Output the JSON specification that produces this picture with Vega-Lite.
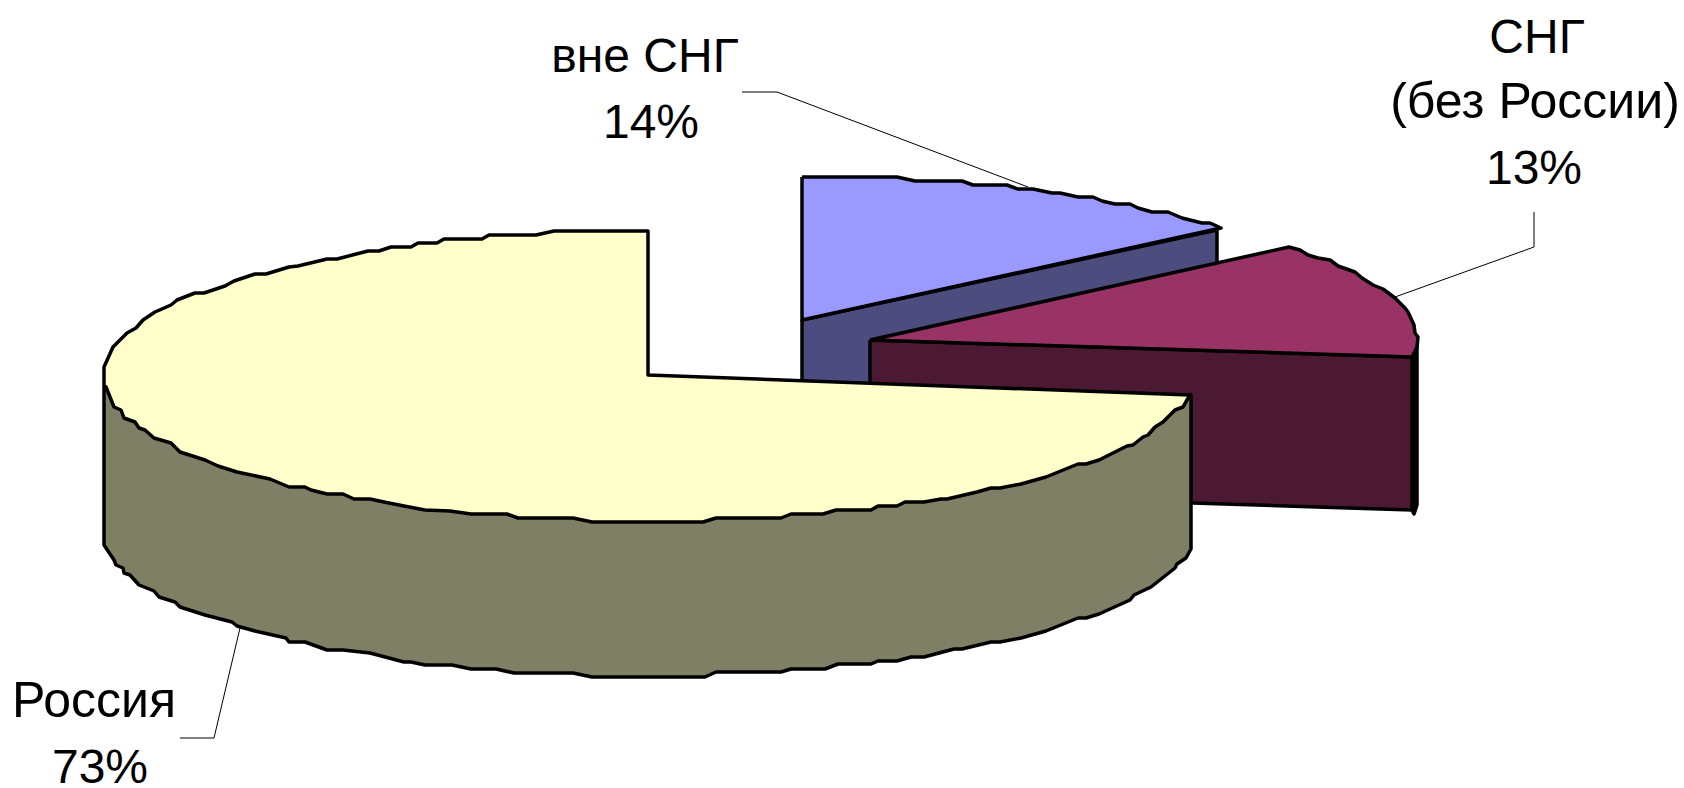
{"$schema":"https://vega.github.io/schema/vega-lite/v6.json","width":1684,"height":788,"padding":0,"autosize":{"type":"none"},"background":"white","view":{"stroke":null},
"datasets":{"faces":[
{"face":"lilacSide","n":1,"x":802,"y":320},{"face":"lilacSide","n":2,"x":1217,"y":230},{"face":"lilacSide","n":3,"x":1217,"y":300},{"face":"lilacSide","n":4,"x":802,"y":400},{"face":"lilacSide","n":5,"x":802,"y":320},
{"face":"lilacTop","n":1,"x":802,"y":177},{"face":"lilacTop","n":2,"x":897,"y":177},{"face":"lilacTop","n":3,"x":915,"y":181},{"face":"lilacTop","n":4,"x":962,"y":181},{"face":"lilacTop","n":5,"x":973,"y":185},{"face":"lilacTop","n":6,"x":1007,"y":185},{"face":"lilacTop","n":7,"x":1018,"y":189},{"face":"lilacTop","n":8,"x":1033,"y":189},{"face":"lilacTop","n":9,"x":1052,"y":193},{"face":"lilacTop","n":10,"x":1060,"y":193},{"face":"lilacTop","n":11,"x":1078,"y":197},{"face":"lilacTop","n":12,"x":1093,"y":197},{"face":"lilacTop","n":13,"x":1102,"y":201},{"face":"lilacTop","n":14,"x":1115,"y":204},{"face":"lilacTop","n":15,"x":1130,"y":204},{"face":"lilacTop","n":16,"x":1138,"y":208},{"face":"lilacTop","n":17,"x":1152,"y":212},{"face":"lilacTop","n":18,"x":1168,"y":212},{"face":"lilacTop","n":19,"x":1182,"y":218},{"face":"lilacTop","n":20,"x":1202,"y":223},{"face":"lilacTop","n":21,"x":1210,"y":223},{"face":"lilacTop","n":22,"x":1221,"y":228},{"face":"lilacTop","n":23,"x":802,"y":320},{"face":"lilacTop","n":24,"x":802,"y":177},
{"face":"plumOuter","n":1,"x":1412,"y":357},{"face":"plumOuter","n":2,"x":1417,"y":345},{"face":"plumOuter","n":3,"x":1417,"y":505},{"face":"plumOuter","n":4,"x":1414,"y":514},{"face":"plumOuter","n":5,"x":1412,"y":510},{"face":"plumOuter","n":6,"x":1412,"y":357},
{"face":"plumSide","n":1,"x":870,"y":340},{"face":"plumSide","n":2,"x":1412,"y":357},{"face":"plumSide","n":3,"x":1412,"y":510},{"face":"plumSide","n":4,"x":870,"y":493},{"face":"plumSide","n":5,"x":870,"y":340},
{"face":"plumTop","n":1,"x":870,"y":340},{"face":"plumTop","n":2,"x":1289,"y":247},{"face":"plumTop","n":3,"x":1300,"y":250},{"face":"plumTop","n":4,"x":1308,"y":255},{"face":"plumTop","n":5,"x":1318,"y":258},{"face":"plumTop","n":6,"x":1330,"y":260},{"face":"plumTop","n":7,"x":1338,"y":266},{"face":"plumTop","n":8,"x":1355,"y":272},{"face":"plumTop","n":9,"x":1362,"y":278},{"face":"plumTop","n":10,"x":1373,"y":285},{"face":"plumTop","n":11,"x":1383,"y":289},{"face":"plumTop","n":12,"x":1395,"y":298},{"face":"plumTop","n":13,"x":1405,"y":308},{"face":"plumTop","n":14,"x":1408,"y":312},{"face":"plumTop","n":15,"x":1414,"y":325},{"face":"plumTop","n":16,"x":1415,"y":333},{"face":"plumTop","n":17,"x":1418,"y":337},{"face":"plumTop","n":18,"x":1417,"y":347},{"face":"plumTop","n":19,"x":1412,"y":357},{"face":"plumTop","n":20,"x":870,"y":340},
{"face":"oliveSide","n":1,"x":104,"y":385},{"face":"oliveSide","n":2,"x":104,"y":545},{"face":"oliveSide","n":3,"x":114,"y":560},{"face":"oliveSide","n":4,"x":116,"y":565},{"face":"oliveSide","n":5,"x":123,"y":568},{"face":"oliveSide","n":6,"x":124,"y":573},{"face":"oliveSide","n":7,"x":130,"y":575},{"face":"oliveSide","n":8,"x":139,"y":585},{"face":"oliveSide","n":9,"x":154,"y":591},{"face":"oliveSide","n":10,"x":159,"y":597},{"face":"oliveSide","n":11,"x":175,"y":602},{"face":"oliveSide","n":12,"x":180,"y":607},{"face":"oliveSide","n":13,"x":205,"y":615},{"face":"oliveSide","n":14,"x":232,"y":622},{"face":"oliveSide","n":15,"x":237,"y":626},{"face":"oliveSide","n":16,"x":255,"y":631},{"face":"oliveSide","n":17,"x":286,"y":638},{"face":"oliveSide","n":18,"x":289,"y":642},{"face":"oliveSide","n":19,"x":305,"y":642},{"face":"oliveSide","n":20,"x":327,"y":650},{"face":"oliveSide","n":21,"x":343,"y":650},{"face":"oliveSide","n":22,"x":370,"y":653},{"face":"oliveSide","n":23,"x":404,"y":662},{"face":"oliveSide","n":24,"x":411,"y":662},{"face":"oliveSide","n":25,"x":425,"y":665},{"face":"oliveSide","n":26,"x":452,"y":665},{"face":"oliveSide","n":27,"x":471,"y":669},{"face":"oliveSide","n":28,"x":496,"y":669},{"face":"oliveSide","n":29,"x":514,"y":673},{"face":"oliveSide","n":30,"x":573,"y":673},{"face":"oliveSide","n":31,"x":592,"y":677},{"face":"oliveSide","n":32,"x":705,"y":677},{"face":"oliveSide","n":33,"x":716,"y":672},{"face":"oliveSide","n":34,"x":781,"y":672},{"face":"oliveSide","n":35,"x":791,"y":669},{"face":"oliveSide","n":36,"x":825,"y":669},{"face":"oliveSide","n":37,"x":838,"y":664},{"face":"oliveSide","n":38,"x":871,"y":664},{"face":"oliveSide","n":39,"x":878,"y":661},{"face":"oliveSide","n":40,"x":897,"y":661},{"face":"oliveSide","n":41,"x":911,"y":657},{"face":"oliveSide","n":42,"x":924,"y":657},{"face":"oliveSide","n":43,"x":954,"y":649},{"face":"oliveSide","n":44,"x":962,"y":649},{"face":"oliveSide","n":45,"x":991,"y":642},{"face":"oliveSide","n":46,"x":1000,"y":642},{"face":"oliveSide","n":47,"x":1021,"y":638},{"face":"oliveSide","n":48,"x":1046,"y":631},{"face":"oliveSide","n":49,"x":1078,"y":618},{"face":"oliveSide","n":50,"x":1086,"y":618},{"face":"oliveSide","n":51,"x":1099,"y":614},{"face":"oliveSide","n":52,"x":1130,"y":600},{"face":"oliveSide","n":53,"x":1134,"y":595},{"face":"oliveSide","n":54,"x":1151,"y":587},{"face":"oliveSide","n":55,"x":1170,"y":572},{"face":"oliveSide","n":56,"x":1175,"y":568},{"face":"oliveSide","n":57,"x":1177,"y":564},{"face":"oliveSide","n":58,"x":1186,"y":558},{"face":"oliveSide","n":59,"x":1191,"y":549},{"face":"oliveSide","n":60,"x":1191,"y":395},{"face":"oliveSide","n":61,"x":104,"y":385},
{"face":"yellowTop","n":1,"x":104,"y":385},{"face":"yellowTop","n":2,"x":104,"y":367},{"face":"yellowTop","n":3,"x":113,"y":347},{"face":"yellowTop","n":4,"x":127,"y":333},{"face":"yellowTop","n":5,"x":136,"y":328},{"face":"yellowTop","n":6,"x":143,"y":320},{"face":"yellowTop","n":7,"x":155,"y":312},{"face":"yellowTop","n":8,"x":171,"y":305},{"face":"yellowTop","n":9,"x":177,"y":300},{"face":"yellowTop","n":10,"x":195,"y":293},{"face":"yellowTop","n":11,"x":204,"y":293},{"face":"yellowTop","n":12,"x":225,"y":286},{"face":"yellowTop","n":13,"x":234,"y":281},{"face":"yellowTop","n":14,"x":255,"y":274},{"face":"yellowTop","n":15,"x":266,"y":274},{"face":"yellowTop","n":16,"x":289,"y":267},{"face":"yellowTop","n":17,"x":298,"y":266},{"face":"yellowTop","n":18,"x":327,"y":259},{"face":"yellowTop","n":19,"x":337,"y":259},{"face":"yellowTop","n":20,"x":368,"y":251},{"face":"yellowTop","n":21,"x":379,"y":251},{"face":"yellowTop","n":22,"x":391,"y":247},{"face":"yellowTop","n":23,"x":411,"y":247},{"face":"yellowTop","n":24,"x":418,"y":243},{"face":"yellowTop","n":25,"x":437,"y":243},{"face":"yellowTop","n":26,"x":444,"y":239},{"face":"yellowTop","n":27,"x":482,"y":239},{"face":"yellowTop","n":28,"x":489,"y":235},{"face":"yellowTop","n":29,"x":536,"y":235},{"face":"yellowTop","n":30,"x":554,"y":231},{"face":"yellowTop","n":31,"x":648,"y":231},{"face":"yellowTop","n":32,"x":648,"y":375},{"face":"yellowTop","n":33,"x":1190,"y":395},{"face":"yellowTop","n":34,"x":1187,"y":400},{"face":"yellowTop","n":35,"x":1183,"y":407},{"face":"yellowTop","n":36,"x":1175,"y":410},{"face":"yellowTop","n":37,"x":1163,"y":422},{"face":"yellowTop","n":38,"x":1155,"y":427},{"face":"yellowTop","n":39,"x":1148,"y":435},{"face":"yellowTop","n":40,"x":1143,"y":437},{"face":"yellowTop","n":41,"x":1133,"y":445},{"face":"yellowTop","n":42,"x":1127,"y":446},{"face":"yellowTop","n":43,"x":1099,"y":460},{"face":"yellowTop","n":44,"x":1086,"y":464},{"face":"yellowTop","n":45,"x":1078,"y":464},{"face":"yellowTop","n":46,"x":1046,"y":477},{"face":"yellowTop","n":47,"x":1021,"y":484},{"face":"yellowTop","n":48,"x":1000,"y":488},{"face":"yellowTop","n":49,"x":991,"y":488},{"face":"yellowTop","n":50,"x":977,"y":492},{"face":"yellowTop","n":51,"x":947,"y":499},{"face":"yellowTop","n":52,"x":941,"y":499},{"face":"yellowTop","n":53,"x":924,"y":502},{"face":"yellowTop","n":54,"x":905,"y":502},{"face":"yellowTop","n":55,"x":897,"y":506},{"face":"yellowTop","n":56,"x":878,"y":506},{"face":"yellowTop","n":57,"x":871,"y":510},{"face":"yellowTop","n":58,"x":836,"y":510},{"face":"yellowTop","n":59,"x":823,"y":514},{"face":"yellowTop","n":60,"x":791,"y":514},{"face":"yellowTop","n":61,"x":781,"y":518},{"face":"yellowTop","n":62,"x":716,"y":518},{"face":"yellowTop","n":63,"x":703,"y":522},{"face":"yellowTop","n":64,"x":592,"y":522},{"face":"yellowTop","n":65,"x":573,"y":518},{"face":"yellowTop","n":66,"x":518,"y":518},{"face":"yellowTop","n":67,"x":507,"y":514},{"face":"yellowTop","n":68,"x":471,"y":514},{"face":"yellowTop","n":69,"x":450,"y":511},{"face":"yellowTop","n":70,"x":425,"y":510},{"face":"yellowTop","n":71,"x":404,"y":506},{"face":"yellowTop","n":72,"x":384,"y":502},{"face":"yellowTop","n":73,"x":370,"y":499},{"face":"yellowTop","n":74,"x":354,"y":499},{"face":"yellowTop","n":75,"x":343,"y":494},{"face":"yellowTop","n":76,"x":327,"y":494},{"face":"yellowTop","n":77,"x":311,"y":490},{"face":"yellowTop","n":78,"x":305,"y":487},{"face":"yellowTop","n":79,"x":289,"y":487},{"face":"yellowTop","n":80,"x":270,"y":479},{"face":"yellowTop","n":81,"x":237,"y":472},{"face":"yellowTop","n":82,"x":218,"y":466},{"face":"yellowTop","n":83,"x":205,"y":460},{"face":"yellowTop","n":84,"x":180,"y":452},{"face":"yellowTop","n":85,"x":171,"y":443},{"face":"yellowTop","n":86,"x":154,"y":438},{"face":"yellowTop","n":87,"x":145,"y":430},{"face":"yellowTop","n":88,"x":139,"y":428},{"face":"yellowTop","n":89,"x":135,"y":422},{"face":"yellowTop","n":90,"x":124,"y":418},{"face":"yellowTop","n":91,"x":121,"y":410},{"face":"yellowTop","n":92,"x":114,"y":407},{"face":"yellowTop","n":93,"x":106,"y":387},{"face":"yellowTop","n":94,"x":104,"y":385}
],
"leaders":[
{"leader":"вне СНГ","n":1,"x":742,"y":92},{"leader":"вне СНГ","n":2,"x":777,"y":92},{"leader":"вне СНГ","n":3,"x":1028,"y":187},
{"leader":"СНГ","n":1,"x":1534,"y":212},{"leader":"СНГ","n":2,"x":1534,"y":247},{"leader":"СНГ","n":3,"x":1395,"y":297},
{"leader":"Россия","n":1,"x":180,"y":738},{"leader":"Россия","n":2,"x":214,"y":738},{"leader":"Россия","n":3,"x":240,"y":628}
],
"labels":[
{"label":"вне СНГ","x":645,"y":72},{"label":"14%","x":651,"y":138},
{"label":"СНГ","x":1537,"y":53},{"label":"(без России)","x":1535,"y":118},{"label":"13%","x":1534,"y":184},
{"label":"Россия","x":94,"y":717},{"label":"73%","x":100,"y":783}
]},
"encoding":{
"x":{"field":"x","type":"quantitative","axis":null,"scale":{"domain":[0,1684],"nice":false,"zero":false}},
"y":{"field":"y","type":"quantitative","axis":null,"scale":{"domain":[0,788],"reverse":true,"nice":false,"zero":false}}
},
"layer":[
{"data":{"name":"faces"},"mark":{"type":"line","stroke":"#000000","strokeWidth":3.5,"strokeJoin":"round"},
"encoding":{"order":{"field":"n","type":"quantitative"},
"detail":{"field":"face"},
"fill":{"field":"face","type":"nominal","legend":null,"sort":null,"scale":{"domain":["lilacSide","lilacTop","plumOuter","plumSide","plumTop","oliveSide","yellowTop"],"range":["#4C4C7F","#9999FF","#000000","#4C1933","#993366","#7F7F66","#FFFFCC"]}}}},
{"data":{"name":"leaders"},"mark":{"type":"line","stroke":"#000000","strokeWidth":1},
"encoding":{"order":{"field":"n","type":"quantitative"},"detail":{"field":"leader"}}},
{"data":{"name":"labels"},"mark":{"type":"text","font":"Liberation Sans","align":"center","baseline":"alphabetic","fill":"#000000"},
"encoding":{"text":{"field":"label"},"size":{"condition":{"test":"datum.label === 'Россия' || datum.label === '(без России)'","value":50},"value":48}}}
]}
